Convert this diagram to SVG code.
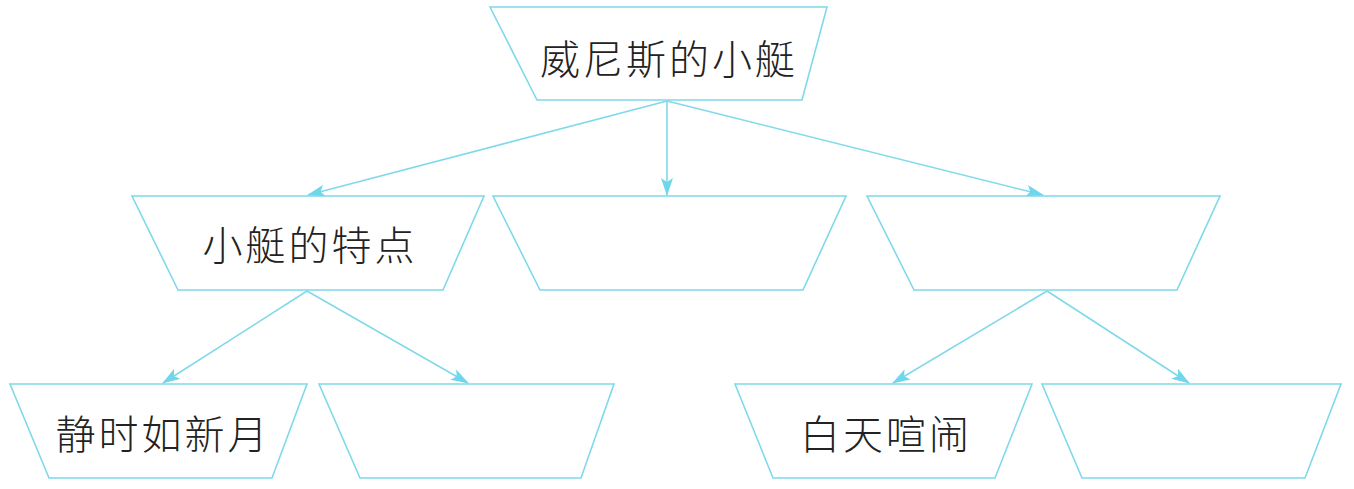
<svg xmlns="http://www.w3.org/2000/svg" width="1354" height="489" viewBox="0 0 1354 489">
<style>
.box{fill:#ffffff;stroke:#7fd9ea;stroke-width:1.6}
.edge{fill:none;stroke:#7fd9ea;stroke-width:1.6}
.lbl{font-family:"Noto Sans CJK SC","Noto Sans CJK TC",sans-serif;font-size:40px;font-weight:300;fill:#222;text-anchor:middle;dominant-baseline:central;letter-spacing:3px}
</style>
<defs>
<marker id="arr" viewBox="0 0 18 12" refX="17" refY="6" markerWidth="18" markerHeight="12" markerUnits="userSpaceOnUse" orient="auto">
<path d="M0,0 L18,6 L0,12 L4,6 Z" fill="#6fd6ec"/>
</marker>
</defs>
<rect width="1354" height="489" fill="#ffffff"/>
<g id="connectors">
<line class="edge" x1="667" y1="101" x2="308" y2="195" marker-end="url(#arr)"/>
<line class="edge" x1="667" y1="101" x2="667" y2="195" marker-end="url(#arr)"/>
<line class="edge" x1="667" y1="101" x2="1043" y2="195" marker-end="url(#arr)"/>
<line class="edge" x1="307" y1="291" x2="163" y2="383" marker-end="url(#arr)"/>
<line class="edge" x1="307" y1="291" x2="468" y2="383" marker-end="url(#arr)"/>
<line class="edge" x1="1047" y1="291" x2="893" y2="383" marker-end="url(#arr)"/>
<line class="edge" x1="1047" y1="291" x2="1189" y2="383" marker-end="url(#arr)"/>
</g>
<g id="n-root">
<polygon class="box" points="490,7 827,7 802,100 537,100"/>
<text class="lbl" x="669" y="57">威尼斯的小艇</text>
</g>
<g id="n-features">
<polygon class="box" points="132,196 484,196 443,290 178,290"/>
<text class="lbl" x="310" y="243">小艇的特点</text>
</g>
<g id="n-middle">
<polygon class="box" points="493,196 846,196 803,290 540,290"/>
</g>
<g id="n-right">
<polygon class="box" points="867,196 1220,196 1177,290 914,290"/>
</g>
<g id="n-moon">
<polygon class="box" points="10,384 307,384 272,478 49,478"/>
<text class="lbl" x="163" y="432">静时如新月</text>
</g>
<g id="n-blank1">
<polygon class="box" points="319,384 614,384 581,478 360,478"/>
</g>
<g id="n-day">
<polygon class="box" points="735,384 1032,384 995,478 773,478"/>
<text class="lbl" x="886" y="432">白天喧闹</text>
</g>
<g id="n-blank2">
<polygon class="box" points="1042,384 1341,384 1305,478 1082,478"/>
</g>
</svg>
